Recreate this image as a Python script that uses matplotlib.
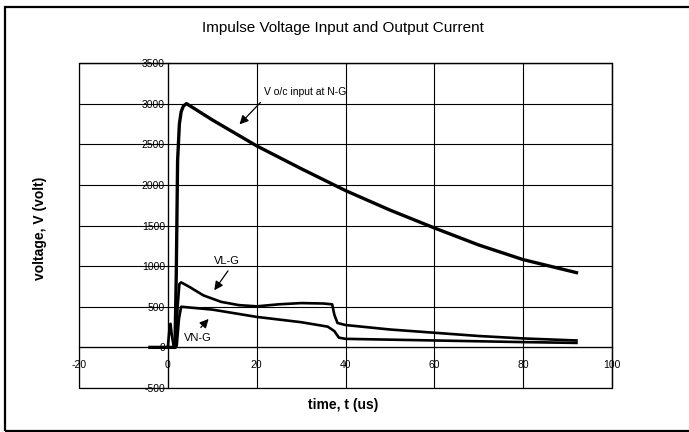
import matplotlib.pyplot as plt
from matplotlib.patches import Rectangle

plt.rcParams['font.family'] = ['Liberation Sans', 'DejaVu Sans']
plt.rcParams['axes.unicode_minus'] = False

# V o/c input at N-G
t_voc = [-4, 1.6, 1.9, 2.2, 2.6, 3.0, 3.5, 4.2, 10, 20, 30, 40, 50, 60, 70, 80, 92]
v_voc = [0, 0, 900, 2300, 2750, 2900, 2970, 3000, 2800, 2480, 2200, 1930, 1690, 1470, 1260, 1080, 920]

# VL-G
t_vlg = [-4, 0, 1.8, 2.2, 2.6, 3.0, 5, 8, 12, 16, 20, 25, 30, 35, 37, 37.5, 38.2, 40, 50, 60, 70, 80, 92]
v_vlg = [0, 0, 0, 500, 780, 800, 740, 640, 560, 520, 505, 530, 545, 540, 530, 400, 300, 275, 220, 180, 140, 110, 85]

# VN-G
t_vng = [-4, 0, 0.4, 0.6, 0.9, 1.3, 2.0, 2.5, 3, 10, 20, 30, 36, 37.5, 38.5, 40, 50, 60, 70, 80, 92]
v_vng = [0, 0, 250, 290, 150, 20, 20, 350, 500, 465, 375, 310, 255, 200, 120, 105, 95, 85, 75, 65, 55]

xticks = [-20, 0, 20, 40, 60, 80, 100]
yticks = [-500, 0, 500, 1000, 1500, 2000, 2500, 3000, 3500]

W, H = 689, 432
fig = plt.figure(figsize=(W / 100, H / 100), dpi=100)
ax = fig.add_axes([79 / W, 1 - 388 / H, (612 - 79) / W, (388 - 63) / H])

ax.plot(t_voc, v_voc, color='black', lw=2.4, solid_joinstyle='round')
ax.plot(t_vlg, v_vlg, color='black', lw=1.9, solid_joinstyle='round')
ax.plot(t_vng, v_vng, color='black', lw=1.9, solid_joinstyle='round')

ax.set_xlim(-20, 100)
ax.set_ylim(-500, 3500)
ax.set_xticks(xticks)
ax.set_yticks(yticks)
ax.grid(True, color='black', lw=0.8)
ax.set_axisbelow(True)

ax.spines['left'].set_position(('data', 0))
ax.spines['bottom'].set_position(('data', 0))
for s in ax.spines.values():
    s.set_color('black')
    s.set_linewidth(0.9)
# plot-area border
ax.add_patch(Rectangle((0, 0), 1, 1, transform=ax.transAxes, fill=False,
                       edgecolor='black', lw=0.9, clip_on=False, zorder=0.5))
ax.tick_params(axis='y', length=0, pad=2, labelsize=7.5)
ax.tick_params(axis='x', length=0, pad=9, labelsize=7.5)

arrow = dict(arrowstyle='-|>', color='black', lw=0.9, mutation_scale=13)
ax.annotate('', xy=(15.7, 2720), xytext=(21.3, 3040), arrowprops=arrow)
ax.text(21.6, 3080, 'V o/c input at N-G', fontsize=7.5, va='bottom', ha='left')
ax.annotate('', xy=(10.1, 675), xytext=(13.9, 970), arrowprops=arrow)
ax.text(13.2, 1000, 'VL-G', fontsize=8, va='bottom', ha='center')
ax.annotate('', xy=(9.6, 375), xytext=(7.0, 220), arrowprops=arrow)
ax.text(6.8, 120, 'VN-G', fontsize=8, va='center', ha='center')

fig.text(343 / W, 1 - 28 / H, 'Impulse Voltage Input and Output Current',
         fontsize=11, ha='center', va='center')
fig.text(40 / W, 1 - 228 / H, 'voltage, V (volt)', fontsize=10, fontweight='bold',
         rotation=90, ha='center', va='center')
fig.text(343 / W, 1 - 405 / H, 'time, t (us)', fontsize=10, fontweight='bold',
         ha='center', va='center')

# outer chart frame
fig.patches.append(Rectangle((5 / W, 1 - 431 / H), 700 / W, (431 - 7) / H,
                             transform=fig.transFigure, fill=False,
                             edgecolor='black', lw=1.6))

fig.savefig('out.png', dpi=100)
